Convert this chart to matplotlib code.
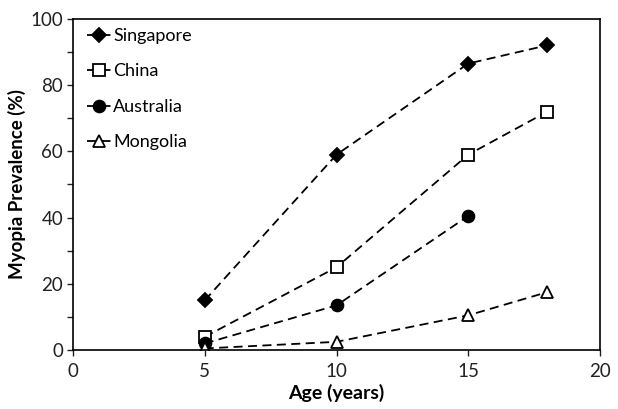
import matplotlib.pyplot as plt
from matplotlib.ticker import MultipleLocator

plt.rcParams['font.family'] = ['Lato', 'DejaVu Sans']

# myopia prevalence (%) by age
ages = [5, 10, 15, 18]
singapore = [15, 59, 86.5, 92]
china = [4, 25, 59, 72]
australia_ages = [5, 10, 15]
australia = [2, 13.5, 40.5]
mongolia = [0.5, 2.5, 10.5, 17.5]

fig = plt.figure(figsize=(6.18, 4.09), dpi=100)
ax = fig.add_axes([0.118, 0.144, 0.853, 0.81])

style = dict(color="black", linestyle=(0, (5, 3)), linewidth=1.3, markersize=8.5,
             markeredgewidth=1.3, markeredgecolor="black")
ax.plot(ages, singapore, marker="D", markerfacecolor="black", label="Singapore",
        **{**style, "markersize": 7.5})
ax.plot(ages, china, marker="s", markerfacecolor="white", label="China", **style)
ax.plot(australia_ages, australia, marker="o", markerfacecolor="black",
        label="Australia", **style)
ax.plot(ages, mongolia, marker="^", markerfacecolor="white", label="Mongolia", **style)

ax.set_xlim(0, 20)
ax.set_ylim(0, 100)
ax.xaxis.set_major_locator(MultipleLocator(5))
ax.yaxis.set_major_locator(MultipleLocator(20))
ax.yaxis.set_minor_locator(MultipleLocator(10))
ax.tick_params(which="both", direction="out", length=4, width=1, labelsize=13.5,
               colors="#222222")
ax.tick_params(axis="x", pad=5)
ax.tick_params(axis="y", pad=3)
for s in ax.spines.values():
    s.set_linewidth(1.2)

ax.set_xlabel("Age (years)", fontsize=14, fontweight="bold", labelpad=3)
ax.set_ylabel("Myopia Prevalence (%)", fontsize=13.5, fontweight="bold", labelpad=3)

ax.legend(loc="upper left", frameon=False, fontsize=13, handlelength=1.3,
          handletextpad=0.15, labelspacing=1.08, borderaxespad=0.1,
          bbox_to_anchor=(0.01, 1.0))

fig.savefig("out.png", dpi=100)
